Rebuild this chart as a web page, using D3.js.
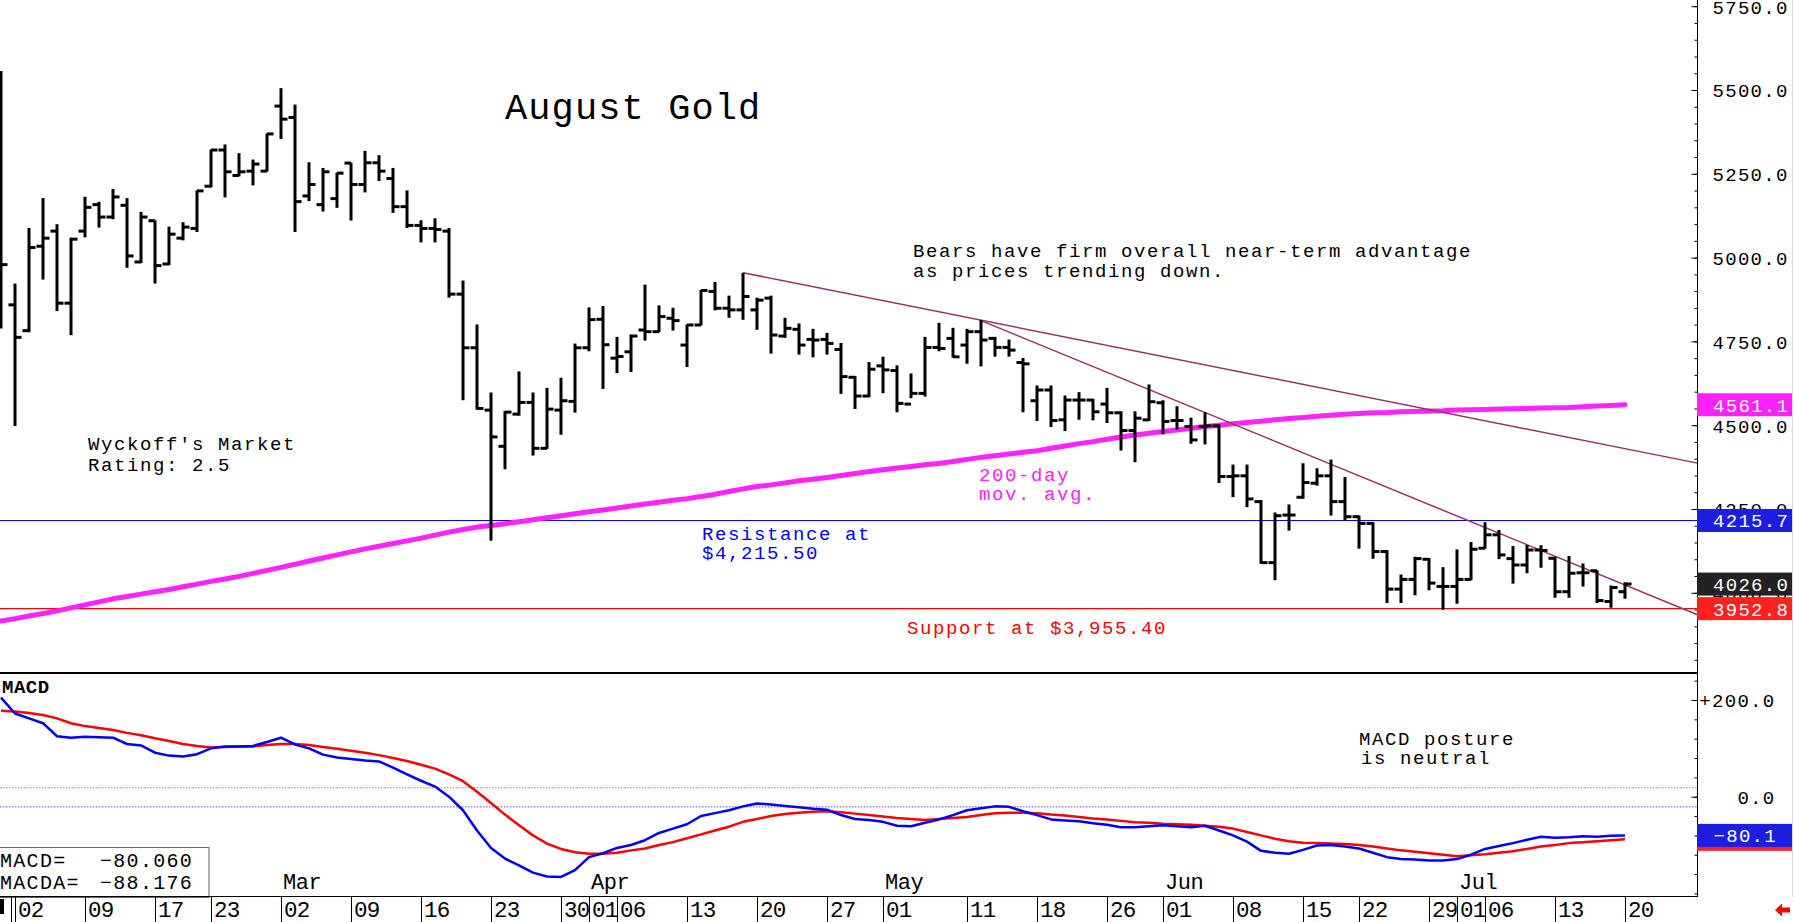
<!DOCTYPE html>
<html><head><meta charset="utf-8">
<script src="https://cdn.jsdelivr.net/npm/d3@7"></script>
<style>body{margin:0;background:#fff;overflow:hidden}svg{display:block}</style>
</head><body>
<svg id="c" width="1794" height="922"></svg>
<script>
// ---------- DATA ----------
const dates = ["01-30",
"02-02","02-03","02-04","02-05","02-06","02-09","02-10","02-11","02-12","02-13","02-17","02-18","02-19","02-20","02-23","02-24","02-25","02-26","02-27",
"03-02","03-03","03-04","03-05","03-06","03-09","03-10","03-11","03-12","03-13","03-16","03-17","03-18","03-19","03-20","03-23","03-24","03-25","03-26","03-27","03-30","03-31",
"04-01","04-02","04-06","04-07","04-08","04-09","04-10","04-13","04-14","04-15","04-16","04-17","04-20","04-21","04-22","04-23","04-24","04-27","04-28","04-29","04-30",
"05-01","05-04","05-05","05-06","05-07","05-08","05-11","05-12","05-13","05-14","05-15","05-18","05-19","05-20","05-21","05-22","05-26","05-27","05-28","05-29",
"06-01","06-02","06-03","06-04","06-05","06-08","06-09","06-10","06-11","06-12","06-15","06-16","06-17","06-18","06-22","06-23","06-24","06-25","06-26","06-29","06-30",
"07-01","07-02","07-06","07-07","07-08","07-09","07-10","07-13","07-14","07-15","07-16","07-17","07-20"];

const open = [5100,4859,4782,5034,5079,4864,5079,5158,5121,5156,4987,5110,4981,5058,5087,5213,5321,5245,5258,5258,
5452,5418,5184,5158,5176,5282,5218,5283,5236,5152,5096,5087,5079,4891,4731,4545,4437,4533,4568,4431,4545,4571,
4731,4816,4700,4719,4784,4779,4819,4739,4799,4899,4849,4844,4844,4879,4766,4786,4756,4756,4726,4643,4587,
4677,4663,4563,4595,4732,4759,4739,4779,4759,4732,4687,4573,4605,4516,4575,4575,4563,4537,4484,4516,
4567,4514,4496,4496,4498,4347,4349,4272,4090,4232,4285,4327,4349,4272,4227,4207,4123,4011,4040,4100,4019,4019,
4040,4133,4173,4102,4083,4128,4103,4003,4060,4066,3974,4003];
const high = [5555,4921,5087,5176,5098,5058,5180,5165,5203,5176,5135,5110,5091,5104,5199,5321,5336,5310,5291,5369,
5504,5455,5283,5266,5252,5282,5317,5304,5266,5199,5110,5116,5087,4930,4799,4596,4541,4659,4596,4610,4640,4742,
4850,4854,4762,4769,4918,4856,4849,4799,4902,4926,4885,4953,4879,4885,4819,4802,4786,4774,4744,4645,4687,
4703,4677,4653,4762,4804,4789,4786,4812,4762,4754,4699,4617,4617,4587,4597,4577,4610,4540,4540,4620,
4573,4555,4521,4537,4501,4381,4381,4275,4238,4262,4385,4370,4396,4344,4229,4209,4126,4053,4106,4102,4075,4128,
4150,4209,4186,4138,4141,4140,4106,4108,4086,4066,4020,4030];
const low = [4790,4499,4779,4936,4842,4770,5062,5091,5116,4971,4985,4924,4979,5053,5078,5211,5181,5244,5217,5258,
5355,5078,5170,5139,5150,5112,5196,5230,5135,5090,5047,5047,4882,4576,4548,4157,4370,4530,4411,4431,4473,4539,
4722,4610,4657,4660,4754,4779,4784,4675,4799,4844,4822,4816,4786,4715,4762,4712,4704,4712,4595,4550,4585,
4597,4540,4582,4587,4722,4703,4685,4677,4706,4706,4540,4514,4496,4484,4518,4516,4508,4426,4391,4514,
4474,4488,4446,4444,4329,4287,4257,4088,4039,4187,4282,4321,4232,4217,4133,4103,3971,3971,3994,4009,3951,3969,
4039,4133,4102,4029,4060,4076,3987,3987,4020,3971,3957,3984];
const close = [4979,4762,5030,5058,4864,5055,5150,5121,5181,5005,5121,4976,5070,5091,5199,5321,5256,5256,5279,5369,
5413,5167,5218,5256,5252,5218,5283,5258,5152,5096,5087,5084,4891,4731,4550,4465,4539,4568,4431,4548,4573,4731,
4815,4740,4705,4766,4779,4824,4812,4799,4902,4849,4844,4884,4873,4769,4789,4739,4754,4744,4645,4587,4667,
4665,4565,4595,4732,4729,4704,4779,4754,4732,4724,4683,4605,4514,4575,4575,4540,4537,4484,4521,4570,
4511,4514,4456,4498,4347,4349,4280,4090,4230,4232,4329,4349,4272,4227,4207,4123,4011,4040,4102,4029,4019,4040,
4130,4173,4113,4083,4128,4126,4003,4058,4060,3977,4016,4026];

const ma200 = [3916,3923,3931,3938,3946,3955,3964,3973,3982,3989,3996,4003,4010,4018,4026,4034,4041,4049,4058,4067,
4076,4085,4095,4104,4113,4122,4131,4139,4147,4155,4163,4172,4181,4189,4196,4201,4206,4212,4218,4224,4230,4236,
4242,4247,4253,4259,4265,4270,4276,4281,4287,4294,4302,4310,4317,4322,4328,4334,4339,4344,4350,4356,4362,
4367,4372,4377,4382,4386,4392,4398,4404,4409,4414,4419,4424,4431,4438,4445,4451,4458,4465,4471,4476,
4481,4486,4491,4496,4500,4504,4508,4512,4516,4520,4523,4527,4530,4533,4535,4537,4538,4540,4541,4542,4543,4545,
4546,4547,4548,4549,4550,4551,4552,4553,4555,4557,4559,4561.1];

const macd = [205,172,162,152,125,122,124,123,122,109,106,91,85,83,88,100,104,104,105,113,
122,108,100,87,81,78,75,73,60,46,33,21,0,-28,-70,-106,-128,-142,-157,-165,-166,-152,
-125,-117,-106,-100,-90,-75,-66,-57,-40,-34,-28,-20,-14,-16,-19,-22,-25,-27,-38,-46,-48,
-52,-60,-61,-54,-47,-38,-28,-24,-20,-21,-30,-38,-47,-49,-51,-55,-58,-63,-63,-61,
-59,-61,-63,-60,-70,-80,-93,-112,-116,-118,-110,-101,-100,-103,-107,-116,-125,-129,-130,-132,-132,-129,
-120,-108,-102,-96,-89,-83,-85,-84,-82,-83,-81,-80.060];
const macdSignal = [178,176,173,169,162,152,146,142,138,132,127,121,115,109,105,102,103,104,104,107,
109,109,107,103,99,95,91,86,80,74,66,58,46,32,10,-13,-37,-59,-80,-97,-108,-115,
-118,-118,-116,-111,-107,-100,-94,-86,-78,-70,-62,-52,-46,-40,-36,-33,-31,-30,-32,-35,-38,
-41,-44,-46,-48,-46,-44,-42,-38,-34,-33,-33,-34,-37,-39,-42,-45,-47,-50,-53,-54,
-56,-57,-58,-60,-62,-66,-73,-80,-87,-92,-95,-96,-97,-98,-100,-103,-107,-111,-114,-117,-120,-123,
-121,-119,-116,-113,-108,-103,-100,-96,-94,-92,-90,-88.176];

const priceTicks = [4000,4250,4500,4750,5000,5250,5500,5750];
const priceMinorStep = 50;
const macdTicks = [200, 0];
const macdMinorStep = 40;
const macdRefLevels = [18.5, -21];
const dateTickLabels = ["02-02","02-09","02-17","02-23","03-02","03-09","03-16","03-23","03-30","04-01","04-06","04-13","04-20","04-27",
"05-01","05-11","05-18","05-26","06-01","06-08","06-15","06-22","06-29","07-01","07-06","07-13","07-20"];
const monthLabels = [["03-02","Mar"],["04-01","Apr"],["05-01","May"],["06-01","Jun"],["07-01","Jul"]];
const resistanceLevel = 4215.7;
const supportLevel = 3952.8;
const trendLines = [[["04-17",4955],["07-20",4430]], [["05-12",4812],["07-02",4212]]];

// ---------- LAYOUT ----------
const W = 1794, H = 922;
const AXIS_X = 1697.5;
const PRICE_BOTTOM = 673, MACD_BOTTOM = 897;
const MONO = "'Liberation Mono','DejaVu Sans Mono',monospace";
const MAG = "#ff22ff", BLUE = "#0000ff", RED = "#ff0000", TREND = "#993366";

const svg = d3.select("#c");
svg.append("rect").attr("width",W).attr("height",H).attr("fill","#fff");

const x = d3.scaleLinear().domain([0, dates.length-1]).range([1, 1625]);
const xd = d => x(dates.indexOf(d));
const y = d3.scaleLinear().domain([3750, 5750]).range([676.6, 6.2]);
const ym = d3.scaleLinear().domain([-200, 200]).range([893.4, 700.0]);

const defs = svg.append("defs");
defs.append("clipPath").attr("id","cp").append("rect").attr("x",0).attr("y",0).attr("width",AXIS_X).attr("height",PRICE_BOTTOM);
defs.append("clipPath").attr("id","cm").append("rect").attr("x",0).attr("y",PRICE_BOTTOM).attr("width",AXIS_X).attr("height",MACD_BOTTOM-PRICE_BOTTOM);

// ---------- PRICE PANEL ----------
const gp = svg.append("g").attr("clip-path","url(#cp)");

gp.append("line").attr("x1",0).attr("x2",AXIS_X).attr("y1",y(resistanceLevel)).attr("y2",y(resistanceLevel)).attr("stroke",BLUE).attr("stroke-width",1.2);
gp.append("line").attr("x1",0).attr("x2",AXIS_X).attr("y1",y(supportLevel)).attr("y2",y(supportLevel)).attr("stroke",RED).attr("stroke-width",1.2);

gp.append("path").datum(ma200).attr("fill","none").attr("stroke",MAG).attr("stroke-width",5).attr("stroke-linecap","round").attr("stroke-linejoin","round")
  .attr("d", d3.line().x((d,i)=>x(i)).y(d=>y(d)));

const xEnd = x.invert(AXIS_X);
trendLines.forEach(([a,b])=>{
  const i0 = dates.indexOf(a[0]), i1 = dates.indexOf(b[0]);
  const slope = (b[1]-a[1])/(i1-i0);
  const vEnd = a[1] + slope*(xEnd - i0);
  gp.append("line").attr("x1",x(i0)).attr("y1",y(a[1])).attr("x2",x(xEnd)).attr("y2",y(vEnd))
    .attr("stroke",TREND).attr("stroke-width",1.5);
});

const bars = gp.append("g").attr("stroke","#000").attr("stroke-width",3);
dates.forEach((d,i)=>{
  const cx = x(i);
  bars.append("line").attr("x1",cx).attr("x2",cx).attr("y1",y(high[i])-0.5).attr("y2",y(low[i])+0.5);
  bars.append("line").attr("x1",cx-6.5).attr("x2",cx).attr("y1",y(open[i])).attr("y2",y(open[i]));
  bars.append("line").attr("x1",cx).attr("x2",cx+6.5).attr("y1",y(close[i])).attr("y2",y(close[i]));
});

function txt(g, xx, yy, s, o={}){
  return g.append("text").attr("x",xx).attr("y",yy).text(s)
   .attr("font-family",MONO).attr("font-size",o.size||19).attr("letter-spacing",o.ls!=null?o.ls:1.6)
   .attr("fill",o.fill||"#000").attr("font-weight",o.weight||"normal");
}
txt(svg,505,119,"August Gold",{size:37,ls:1.1});
txt(svg,913,257,"Bears have firm overall near-term advantage");
txt(svg,913,277,"as prices trending down.");
txt(svg,88,450,"Wyckoff's Market");
txt(svg,88,471,"Rating: 2.5");
txt(svg,979,481,"200-day",{fill:MAG});
txt(svg,979,500,"mov. avg.",{fill:MAG});
txt(svg,702,540,"Resistance at",{fill:BLUE});
txt(svg,702,559,"$4,215.50",{fill:BLUE});
txt(svg,907,634,"Support at $3,955.40",{fill:RED});

// ---------- MACD PANEL ----------
const gm = svg.append("g").attr("clip-path","url(#cm)");
gm.append("line").attr("x1",0).attr("x2",AXIS_X).attr("y1",ym(macdRefLevels[0])).attr("y2",ym(macdRefLevels[0])).attr("stroke","#ff6060").attr("stroke-width",1).attr("stroke-dasharray","1.5,1.5");
gm.append("line").attr("x1",0).attr("x2",AXIS_X).attr("y1",ym(macdRefLevels[1])).attr("y2",ym(macdRefLevels[1])).attr("stroke","#5050ff").attr("stroke-width",1).attr("stroke-dasharray","1.5,1.5");
gm.append("path").datum(macdSignal).attr("fill","none").attr("stroke",RED).attr("stroke-width",2.5).attr("stroke-linejoin","round")
  .attr("d", d3.line().x((d,i)=>x(i)).y(d=>ym(d)));
gm.append("path").datum(macd).attr("fill","none").attr("stroke",BLUE).attr("stroke-width",2.5).attr("stroke-linejoin","round")
  .attr("d", d3.line().x((d,i)=>x(i)).y(d=>ym(d)));

txt(svg,2,693,"MACD",{size:19,ls:0.5,weight:"bold"});
txt(svg,1359,745,"MACD posture");
txt(svg,1361,764,"is neutral");

svg.append("rect").attr("x",-1).attr("y",847.5).attr("width",210).attr("height",50).attr("fill","#fff").attr("stroke","#666").attr("stroke-width",1);
const f3 = d3.format(".3f");
txt(svg,0,867,"MACD=",{size:20,ls:1.3});
txt(svg,100,867,f3(macd[macd.length-1]),{size:20,ls:1.3});
txt(svg,0,889,"MACDA=",{size:20,ls:1.3});
txt(svg,100,889,f3(macdSignal[macdSignal.length-1]),{size:20,ls:1.3});

svg.append("line").attr("x1",0).attr("x2",AXIS_X).attr("y1",PRICE_BOTTOM).attr("y2",PRICE_BOTTOM).attr("stroke","#000").attr("stroke-width",2);
svg.append("line").attr("x1",0).attr("x2",AXIS_X).attr("y1",MACD_BOTTOM-0.5).attr("y2",MACD_BOTTOM-0.5).attr("stroke","#000").attr("stroke-width",1);

// ---------- RIGHT AXES ----------
svg.append("line").attr("x1",AXIS_X).attr("x2",AXIS_X).attr("y1",0).attr("y2",MACD_BOTTOM).attr("stroke","#000").attr("stroke-width",1);
svg.append("line").attr("x1",1792.5).attr("x2",1792.5).attr("y1",0).attr("y2",MACD_BOTTOM).attr("stroke","#d8d8d8").attr("stroke-width",1);

function styleAxis(g){ g.select(".domain").remove(); g.selectAll("text").attr("font-family",MONO).attr("font-size",19).attr("letter-spacing",1.3).attr("fill","#000"); }
const pMinor = d3.range(3800, 5751, priceMinorStep);
svg.append("g").attr("transform",`translate(${AXIS_X},0)`).call(d3.axisRight(y).tickValues(pMinor).tickSize(-3).tickSizeOuter(0).tickFormat("")).call(styleAxis);
svg.append("g").attr("transform",`translate(${AXIS_X},0)`)
  .call(d3.axisRight(y).tickValues(priceTicks).tickSize(-6).tickSizeOuter(0).tickPadding(15).tickFormat(d3.format(".1f"))).call(styleAxis)
  .selectAll("text").attr("dy","0.36em");
const mMinor = d3.range(-200, 241, macdMinorStep);
svg.append("g").attr("transform",`translate(${AXIS_X},0)`).call(d3.axisRight(ym).tickValues(mMinor).tickSize(-3).tickSizeOuter(0).tickFormat("")).call(styleAxis);
svg.append("g").attr("transform",`translate(${AXIS_X},0)`)
  .call(d3.axisRight(ym).tickValues(macdTicks).tickSize(-6).tickSizeOuter(0).tickPadding(3).tickFormat(v=> (v>0?"+":"")+v.toFixed(1))).call(styleAxis)
  .selectAll("text").attr("text-anchor","end").attr("x",78).attr("dy","0.36em");

function badge(yy, fill, label, xText, anchor){
  svg.append("rect").attr("x",1697).attr("y",yy-11.5).attr("width",95).attr("height",23).attr("fill",fill);
  svg.append("text").attr("x",xText).attr("y",yy+7).text(label).attr("fill","#fff").attr("text-anchor",anchor||"start")
    .attr("font-family",MONO).attr("font-size",19).attr("letter-spacing",1.3);
}
const f1 = d3.format(".1f");
badge(y(ma200[ma200.length-1]), MAG, f1(ma200[ma200.length-1]), 1713);
badge(y(resistanceLevel), "#1e1ee0", f1(resistanceLevel), 1713);
badge(y(close[close.length-1]), "#222", f1(close[close.length-1]), 1713);
badge(y(supportLevel), "#ff2020", f1(supportLevel), 1713);
badge(ym(macdSignal[macdSignal.length-1]), "#ff2020", f1(macdSignal[macdSignal.length-1]), 1777, "end");
badge(ym(macd[macd.length-1]), "#1e1ee0", f1(macd[macd.length-1]), 1777, "end");

// ---------- DATE AXIS ----------
const gx = svg.append("g").attr("transform",`translate(0,${MACD_BOTTOM})`)
  .call(d3.axisBottom(x).tickValues(dateTickLabels.map(d=>dates.indexOf(d))).tickSize(25).tickSizeOuter(0).tickFormat(i=>dates[i].slice(3)));
gx.select(".domain").remove();
gx.selectAll(".tick text").attr("text-anchor","start").attr("x",2.5).attr("y",19.5).attr("dy",null)
  .attr("font-family",MONO).attr("font-size",22.5).attr("letter-spacing",-0.8).attr("fill","#000");
svg.append("rect").attr("x",0).attr("y",899).attr("width",4).attr("height",15).attr("fill","#000");
svg.append("line").attr("x1",11.5).attr("x2",11.5).attr("y1",MACD_BOTTOM).attr("y2",H).attr("stroke","#000");
monthLabels.forEach(([d,l])=>{
  svg.append("text").attr("x",xd(d)+2).attr("y",889).text(l).attr("font-family",MONO).attr("font-size",22).attr("letter-spacing",-0.4).attr("fill","#000");
});

svg.append("path").attr("d","M1775,910 L1782,903.5 L1782,907.5 L1790,907.5 L1790,912.5 L1782,912.5 L1782,916.5 Z").attr("fill","#ff0000");
</script>
</body></html>
